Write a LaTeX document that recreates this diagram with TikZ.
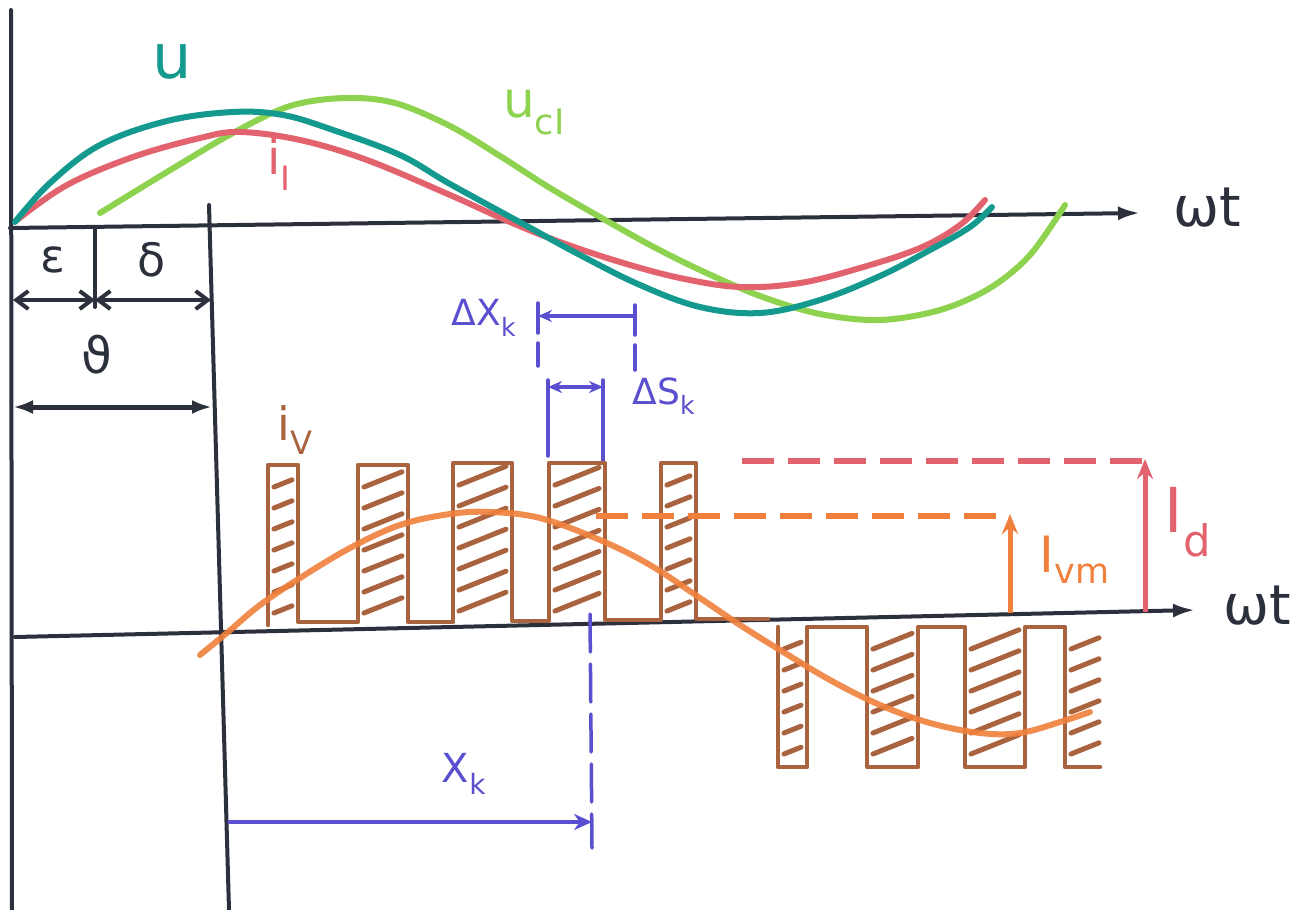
\documentclass[tikz,border=0pt]{standalone}
\usepackage{fontspec}
\setmainfont{DejaVu Sans}
\usetikzlibrary{arrows.meta}
\definecolor{axc}{HTML}{2C303C}
\definecolor{tealc}{HTML}{14998E}
\definecolor{pinkc}{HTML}{E2636E}
\definecolor{greenc}{HTML}{8ED34F}
\definecolor{orangec}{HTML}{F0803C}
\definecolor{brownc}{HTML}{A9643F}
\definecolor{bluec}{HTML}{5A4FCF}
\tikzset{
  ax/.style={line width=4pt, draw=axc, line cap=round},
  axarrow/.style={ax, -{Latex[length=22pt,width=14pt]}},
  dimarrow/.style={line width=4pt, draw=axc, {Straight Barb[length=12pt,width=18pt]}-{Straight Barb[length=12pt,width=18pt]}},
  dimarrowf/.style={line width=5pt, draw=axc, {Latex[length=20pt,width=14pt]}-{Latex[length=20pt,width=14pt]}},
  crv/.style={line width=6pt, line cap=round, line join=round},
  pulse/.style={line width=4.5pt, draw=brownc, line join=round, line cap=round},
  hatch/.style={line width=5pt, draw=brownc, line cap=round},
  bl/.style={line width=3.5pt, draw=bluec, line cap=round},
  bldash/.style={bl, dash pattern=on 38pt off 12pt},
  pinkdash/.style={line width=5.5pt, draw=pinkc, dash pattern=on 32pt off 14pt},
  orgdash/.style={line width=5.5pt, draw=orangec, dash pattern=on 32pt off 14pt},
  lbl/.style={inner sep=0pt, outer sep=0pt},
}
\newcommand\hatchbox[4]{%
  \pgfmathsetmacro\hbw{#2-#1-12}%
  \pgfmathtruncatemacro\hbn{(#4-#3-28)/21}%
  \foreach \k in {0,...,\hbn}{%
    \draw[hatch] ({#1+6},{#3+22+21*\k}) -- ++(\hbw,{-0.4*\hbw});
  }}
\begin{document}
\begin{tikzpicture}[x=1pt,y=-1pt]
\useasboundingbox[fill=white] (0,0) rectangle (1312,910);

% ---------- axes ----------
\coordinate (vl0) at (11,10);
\coordinate (vl1) at (12,910);
\draw[ax] (vl0) -- (vl1);
\coordinate (v20) at (209,205);
\coordinate (v21) at (229,910);
\draw[ax] (v20) -- (v21);
\coordinate (ta0) at (10,228);
\coordinate (ta1) at (1140,213);
\draw[axarrow] (ta0) -- (ta1);
\node[lbl, text=axc, font=\fontsize{55}{60}\selectfont] (wt1) at (1207,208) {ωt};
\coordinate (ba0) at (15,637);
\coordinate (ba1) at (1195,610);
\draw[axarrow] (ba0) -- (ba1);
\node[lbl, text=axc, font=\fontsize{55}{60}\selectfont] (wt2) at (1257,606) {ωt};

% ---------- left dimensions ----------
\coordinate (tk0) at (95,228);
\coordinate (tk1) at (95,307);
\draw[ax] (tk0) -- (tk1);
\coordinate (d0) at (13,300);
\coordinate (d1) at (95,300);
\coordinate (d2) at (211,300);
\draw[dimarrow] (d0) -- (d1);
\draw[dimarrow] (d1) -- (d2);
\coordinate (t0) at (13,407);
\coordinate (t1) at (212,407);
\draw[dimarrowf] (t0) -- (t1);
\node[lbl, text=axc, font=\fontsize{46}{50}\selectfont] (eps) at (53,260) {ε};
\node[lbl, text=axc, font=\fontsize{46}{50}\selectfont] (del) at (152,260) {δ};
\node[lbl, text=axc, font=\fontsize{50}{55}\selectfont] (th) at (97,355) {ϑ};

% ---------- upper curves ----------
\draw[crv, greenc] plot[smooth, tension=0.55] coordinates {(100,213) (167,172) (233,133) (290,106) (345,98) (395,103) (450,126) (500,156) (550,188) (600,217) (650,245) (700,270) (760,296) (820,314) (880,320) (940,310) (990,288) (1030,255) (1065,205)};
\draw[crv, pinkc] plot[smooth, tension=0.6] coordinates {(17,220) (67,185) (133,157) (200,138) (240,132) (300,140) (367,160) (450,195) (510,222) (560,242) (620,262) (680,278) (740,287) (800,283) (860,268) (920,248) (960,225) (985,200)};
\draw[crv, tealc] plot[smooth, tension=0.6] coordinates {(15,222) (50,183) (100,145) (167,121) (233,112) (283,115) (333,130) (400,155) (450,184) (525,225) (580,255) (640,285) (700,307) (760,313) (820,300) (880,276) (930,250) (970,227) (992,207)};
\node[lbl, text=tealc, font=\fontsize{62}{66}\selectfont] (lu) at (172,62) {u};
\node[lbl, text=pinkc, font=\fontsize{48}{52}\selectfont] (li) at (279,164) {i\textsubscript{I}};
\node[lbl, text=greenc, font=\fontsize{50}{54}\selectfont] (luc) at (534,112) {u\textsubscript{cI}};

% ---------- blue marks ----------
\coordinate (xa0) at (538,303);
\coordinate (xa1) at (538,366);
\coordinate (xb0) at (635,305);
\coordinate (xb1) at (635,370);
\draw[bl, dash pattern=on 30pt off 10pt] (xa0) -- (xa1);
\draw[bl, dash pattern=on 30pt off 10pt] (xb0) -- (xb1);
\coordinate (xh0) at (538,316);
\coordinate (xh1) at (635,316);
\draw[bl, {Stealth[length=14pt,width=12pt]}-] (xh0) -- (xh1);
\node[lbl, text=bluec, font=\fontsize{36}{40}\selectfont] (ldx) at (484,318) {ΔX\textsubscript{k}};
\coordinate (sa0) at (548,380);
\coordinate (sa1) at (548,456);
\coordinate (sb0) at (603,380);
\coordinate (sb1) at (603,463);
\draw[bl] (sa0) -- (sa1);
\draw[bl] (sb0) -- (sb1);
\coordinate (sh0) at (548,387);
\coordinate (sh1) at (603,387);
\draw[bl, {Stealth[length=14pt,width=12pt]}-{Stealth[length=14pt,width=12pt]}] (sh0) -- (sh1);
\node[lbl, text=bluec, font=\fontsize{36}{40}\selectfont] (lds) at (664,396) {ΔS\textsubscript{k}};
\coordinate (xk0) at (590,614);
\coordinate (xk1) at (592,848);
\draw[bldash] (xk0) -- (xk1);
\coordinate (xr0) at (229,822);
\coordinate (xr1) at (592,822);
\draw[bl, -{Stealth[length=18pt,width=16pt]}] (xr0) -- (xr1);
\node[lbl, text=bluec, font=\fontsize{40}{44}\selectfont] (lxk) at (464,774) {X\textsubscript{k}};

% ---------- pulses ----------
\hatchbox{268}{298}{465}{625}
\hatchbox{358}{408}{465}{622}
\hatchbox{453}{512}{463}{621}
\hatchbox{549}{605}{463}{620}
\hatchbox{661}{696}{463}{619}
\draw[pulse] (268,625) -- (268,465) -- (298,465) -- (298,622) -- (358,622) -- (358,465) -- (408,465) -- (408,622) -- (453,622) -- (453,463) -- (512,463) -- (512,621) -- (549,621) -- (549,463) -- (605,463) -- (605,620) -- (661,620) -- (661,463) -- (696,463) -- (696,619) -- (768,619);
\hatchbox{778}{807}{627}{767}
\hatchbox{867}{918}{627}{767}
\hatchbox{965}{1025}{627}{767}
\hatchbox{1065}{1105}{627}{767}
\draw[pulse] (778,627) -- (778,767) -- (807,767) -- (807,627) -- (867,627) -- (867,767) -- (918,767) -- (918,627) -- (965,627) -- (965,767) -- (1025,767) -- (1025,627) -- (1065,627) -- (1065,767) -- (1100,767);
\node[lbl, text=brownc, font=\fontsize{46}{50}\selectfont] (liv) at (295,430) {i\textsubscript{V}};

% ---------- orange / pink levels ----------
\coordinate (od0) at (596,516);
\coordinate (od1) at (1010,516);
\draw[orgdash] (od0) -- (od1);
\coordinate (oa0) at (1010,613);
\coordinate (oa1) at (1010,514);
\draw[line width=5pt, orangec, -{Stealth[length=20pt,width=16pt]}] (oa0) -- (oa1);
\node[lbl, text=orangec, font=\fontsize{50}{54}\selectfont] (livm) at (1075,560) {I\textsubscript{vm}};
\coordinate (pd0) at (742,461);
\coordinate (pd1) at (1145,461);
\draw[pinkdash] (pd0) -- (pd1);
\coordinate (pa0) at (1145,612);
\coordinate (pa1) at (1145,459);
\draw[line width=5pt, pinkc, -{Stealth[length=20pt,width=16pt]}] (pa0) -- (pa1);
\node[lbl, text=pinkc, font=\fontsize{62}{66}\selectfont] (lid) at (1188,522) {I\textsubscript{d}};

\draw[crv, orangec, opacity=0.9] plot[smooth, tension=0.6] coordinates {(200,655) (228,632) (260,605) (300,578) (350,548) (400,525) (450,514) (490,512) (540,518) (600,540) (650,565) (700,598) (740,625) (780,650) (830,680) (880,705) (930,723) (980,733) (1020,733) (1060,722) (1090,712)};
\end{tikzpicture}
\end{document}
